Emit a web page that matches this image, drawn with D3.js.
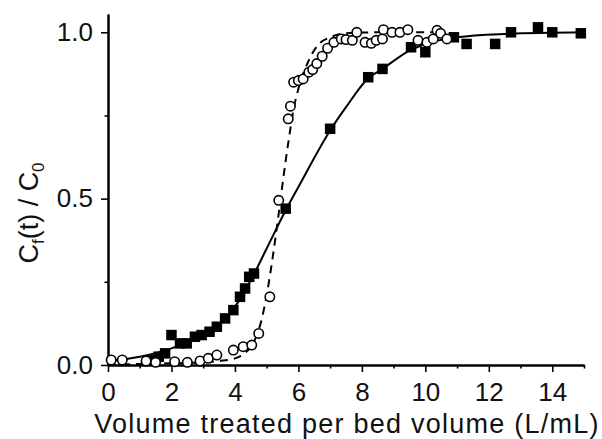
<!DOCTYPE html>
<html>
<head>
<meta charset="utf-8">
<script src="https://cdn.jsdelivr.net/npm/d3@7"></script>
<style>
    html, body { margin:0; padding:0; background:#fff; }
    svg { display:block; font-family:"Liberation Sans", Arial, sans-serif; }
</style>
</head>
<body>
<svg id="chart" width="602" height="439"></svg>
<script>
// ==================== DATA ====================
// filled squares (solid fit)
const sqX = [1.4,1.6,1.8,2.0,2.27,2.48,2.74,2.95,3.2,3.43,3.69,3.95,4.16,4.32,4.45,4.6,5.6,7.0,8.2,8.65,9.55,10.0,10.9,11.3,12.2,12.7,13.55,14.0,14.9];
const sqY = [0.015,0.025,0.035,0.09,0.065,0.065,0.085,0.09,0.1,0.115,0.14,0.165,0.205,0.23,0.265,0.275,0.47,0.71,0.865,0.89,0.955,0.94,0.985,0.965,0.965,1.0,1.015,1.0,0.997];

// open circles (dashed fit)
const ciX = [0.1,0.45,1.2,1.5,2.1,2.5,2.9,3.16,3.43,3.95,4.26,4.53,4.75,5.1,5.38,5.68,5.75,5.85,6.0,6.15,6.33,6.45,6.58,6.75,6.92,7.12,7.35,7.5,7.7,7.84,8.1,8.3,8.45,8.65,8.68,8.95,9.2,9.45,9.77,10.05,10.25,10.37,10.48,10.68];
const ciY = [0.015,0.015,0.012,0.008,0.01,0.008,0.012,0.02,0.03,0.045,0.055,0.06,0.095,0.205,0.495,0.74,0.778,0.85,0.855,0.86,0.88,0.888,0.906,0.928,0.952,0.97,0.98,0.978,0.976,1.0,0.97,0.967,0.976,0.98,1.008,1.0,1.0,1.008,0.976,0.97,0.98,1.006,0.997,0.98];

// fit curves
const solX = [0,1,2,3,3.5,4,4.5,5,5.6,6,7,7.5,8.2,8.65,9.5,10,11,12.5,15];
const solY = [0.012,0.025,0.05,0.09,0.12,0.175,0.255,0.35,0.465,0.535,0.705,0.775,0.862,0.89,0.945,0.965,0.985,0.995,1.0];
const dashX = [0,1,2,3,3.5,4,4.3,4.6,4.85,5.0,5.2,5.4,5.55,5.7,5.85,6.0,6.3,6.6,7.0,7.5,8.5,10.4];
const dashY = [0,0.003,0.005,0.008,0.012,0.02,0.035,0.07,0.14,0.21,0.33,0.47,0.58,0.68,0.77,0.83,0.91,0.96,0.985,0.997,1.0,1.0];

const xMajor = [0,2,4,6,8,10,12,14];
const xMinor = [1,3,5,7,9,11,13,15];
const yMajor = [0,0.5,1.0];
const yMinor = [0.25,0.75];

// ==================== SCALES ====================
const svg = d3.select("#chart");
const x = d3.scaleLinear().domain([0,15]).range([108,584]);
const y = d3.scaleLinear().domain([0,1.055]).range([365,14]);

const zip = (xs, ys) => xs.map((v,i)=>({x:v, y:ys[i]}));

// ==================== AXES ====================
function styleAxis(g){
    g.select(".domain").attr("stroke","#000").attr("stroke-width",2);
    g.selectAll(".tick line").attr("stroke","#000").attr("stroke-width",1.6);
    g.selectAll(".tick text").attr("fill","#111").style("font-size","26px")
        .style("font-family","'Liberation Sans', Arial, sans-serif");
}

// minor ticks first, then major with labels
svg.append("g").attr("transform","translate(0,365)")
    .call(d3.axisBottom(x).tickValues(xMinor).tickSize(3.5).tickSizeOuter(0).tickFormat(""))
    .call(styleAxis);
svg.append("g").attr("transform","translate(0,365)")
    .call(d3.axisBottom(x).tickValues(xMajor).tickSize(7).tickSizeOuter(0).tickPadding(11).tickFormat(d3.format("d")))
    .call(styleAxis);

svg.append("g").attr("transform","translate(108,0)")
    .call(d3.axisLeft(y).tickValues(yMinor).tickSize(3.5).tickSizeOuter(0).tickFormat(""))
    .call(styleAxis);
svg.append("g").attr("transform","translate(108,0)")
    .call(d3.axisLeft(y).tickValues(yMajor).tickSize(7).tickSizeOuter(0).tickPadding(8).tickFormat(d3.format(".1f")))
    .call(styleAxis);

// axis titles
svg.append("text")
    .attr("x",347).attr("y",433)
    .attr("text-anchor","middle")
    .style("font-size","27px").style("letter-spacing","1.25px").attr("fill","#111")
    .text("Volume treated per bed volume (L/mL)");

const yt = svg.append("text")
    .attr("transform","translate(38,213) rotate(-90)")
    .attr("text-anchor","middle")
    .style("font-size","27px").attr("fill","#111");
yt.append("tspan").text("C");
yt.append("tspan").attr("dy",6).style("font-size","17px").text("f");
yt.append("tspan").attr("dy",-6).text("(t) / C");
yt.append("tspan").attr("dy",6).style("font-size","17px").text("0");

// ==================== LINES ====================
const line = d3.line().x(d=>x(d.x)).y(d=>y(d.y)).curve(d3.curveMonotoneX);

svg.append("path").datum(zip(solX,solY))
    .attr("fill","none").attr("stroke","#000").attr("stroke-width",2)
    .attr("d",line);

svg.append("path").datum(zip(dashX,dashY))
    .attr("fill","none").attr("stroke","#000").attr("stroke-width",2)
    .attr("stroke-dasharray","8,6")
    .attr("d",line);

// ==================== MARKERS ====================
const sq = 10.5;
svg.append("g").selectAll("rect")
    .data(zip(sqX,sqY))
    .join("rect")
    .attr("x",d=>x(d.x)-sq/2).attr("y",d=>y(d.y)-sq/2)
    .attr("width",sq).attr("height",sq)
    .attr("fill","#000");

svg.append("g").selectAll("circle")
    .data(zip(ciX,ciY))
    .join("circle")
    .attr("cx",d=>x(d.x)).attr("cy",d=>y(d.y)).attr("r",4.7)
    .attr("fill","#fff").attr("stroke","#000").attr("stroke-width",1.6);
</script>
</body>
</html>
